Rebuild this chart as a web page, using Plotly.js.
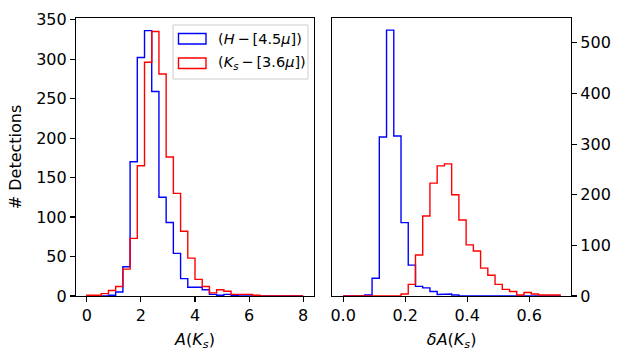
<!DOCTYPE html>
<html>
<head>
<meta charset="utf-8">
<script src="https://cdn.plot.ly/plotly-3.0.1.min.js"></script>
<style>
  html, body { margin: 0; padding: 0; background: #fff; }
  #chart { width: 620px; height: 357px; }
</style>
</head>
<body>
<div id="chart"></div>
<script>
// histogram bins: 30 bins each panel
const ampBinStart = 0, ampBinWidth = 8 / 30;
const errBinStart = 0, errBinWidth = 0.7 / 30;

// A(Ks) counts, (H - [4.5]) and (Ks - [3.6])
const ampH45 = [0, 0, 0, 1, 5, 37, 170, 302, 336, 259, 125, 93, 54, 22, 11,
                11, 8, 2, 1, 2, 1, 0, 0, 0, 0, 0, 0, 0, 0, 0];
const ampKs36 = [1, 1, 3, 7, 12, 34, 73, 165, 296, 335, 281, 176, 130, 82, 48,
                 21, 12, 4, 8, 6, 2, 2, 2, 1, 0, 0, 0, 0, 0, 0];

// dA(Ks) counts
const errH45 = [0, 0, 0, 2, 35, 314, 525, 316, 145, 61, 19, 16, 9, 3, 4,
                2, 0, 0, 0, 0, 0, 0, 0, 0, 0, 0, 0, 0, 0, 0];
const errKs36 = [0, 0, 0, 0, 0, 0, 0, 0, 4, 23, 81, 158, 223, 257, 261,
                 200, 150, 101, 89, 55, 41, 23, 13, 9, 2, 7, 4, 2, 2, 2];

const seriesNames = ['(<i>H</i>\u2009−\u2009[4.5<i>μ</i>])', '(<i>K</i><sub><i>s</i></sub>\u2009−\u2009[3.6<i>μ</i>])'];
const seriesColors = ['#0000ff', '#ff0000'];

// step outline like matplotlib histtype='step'
function stepTrace(start, width, counts, color, xa, ya) {
  const x = [start], y = [0];
  counts.forEach((c, i) => {
    x.push(start + i * width, start + (i + 1) * width);
    y.push(c, c);
  });
  x.push(start + counts.length * width);
  y.push(0);
  return {
    x: x, y: y, type: 'scatter', mode: 'lines',
    line: {color: color, width: 1.4, shape: 'linear'},
    xaxis: xa, yaxis: ya, showlegend: false, hoverinfo: 'skip'
  };
}

const traces = [
  stepTrace(ampBinStart, ampBinWidth, ampH45, seriesColors[0], 'x', 'y'),
  stepTrace(ampBinStart, ampBinWidth, ampKs36, seriesColors[1], 'x', 'y'),
  stepTrace(errBinStart, errBinWidth, errH45, seriesColors[0], 'x2', 'y2'),
  stepTrace(errBinStart, errBinWidth, errKs36, seriesColors[1], 'x2', 'y2')
];

const M = {l: 76, r: 49, t: 18, b: 61};
const W = 620, H = 357;
const pw = W - M.l - M.r, ph = H - M.t - M.b;
const px = v => (v - M.l) / pw;
const py = v => (H - M.b - v) / ph;

const font = {family: 'DejaVu Sans, sans-serif', size: 16, color: '#000'};
const legFont = {family: 'DejaVu Sans, sans-serif', size: 14.5, color: '#000'};
const axisBase = {
  showline: true, mirror: true, linecolor: '#000', linewidth: 1.1,
  ticks: 'outside', ticklen: 5, tickwidth: 1.1, tickcolor: '#000',
  showgrid: false, zeroline: false, tickfont: font
};

// legend drawn as in matplotlib (outlined patches)
const shapes = [
  {type: 'rect', xref: 'paper', yref: 'paper', x0: px(173), x1: px(308), y0: py(79), y1: py(25),
   line: {color: '#cccccc', width: 1}, fillcolor: 'rgba(255,255,255,0.8)'},
  {type: 'rect', xref: 'paper', yref: 'paper', x0: px(178.5), x1: px(206), y0: py(44), y1: py(33.5),
   line: {color: seriesColors[0], width: 1.4}, fillcolor: 'rgba(0,0,0,0)'},
  {type: 'rect', xref: 'paper', yref: 'paper', x0: px(178.5), x1: px(206), y0: py(68.5), y1: py(58),
   line: {color: seriesColors[1], width: 1.4}, fillcolor: 'rgba(0,0,0,0)'}
];
const annotations = seriesNames.map((t, i) => ({
  text: t, xref: 'paper', yref: 'paper', x: px(216), y: py(i ? 63.5 : 39),
  xanchor: 'left', yanchor: 'middle', showarrow: false, font: legFont
}));

const layout = {
  width: W, height: H, margin: M,
  paper_bgcolor: '#fff', plot_bgcolor: '#fff', font: font,
  showlegend: false,
  xaxis: Object.assign({}, axisBase, {
    domain: [0, px(314)], range: [-0.4, 8.4], dtick: 2, tick0: 0,
    title: {text: '<i>A</i>(<i>K</i><sub><i>s</i></sub>)', font: font, standoff: 9}
  }),
  yaxis: Object.assign({}, axisBase, {
    domain: [0, 1], range: [0, 352], dtick: 50, tick0: 0,
    title: {text: '# Detections', font: font, standoff: 10}
  }),
  xaxis2: Object.assign({}, axisBase, {
    domain: [px(332.3), 1], range: [-0.035, 0.735], dtick: 0.2, tick0: 0,
    tickformat: '.1f', anchor: 'y2',
    title: {text: '<i>δA</i>(<i>K</i><sub><i>s</i></sub>)', font: font, standoff: 9}
  }),
  yaxis2: Object.assign({}, axisBase, {
    domain: [0, 1], range: [0, 549], dtick: 100, tick0: 0,
    side: 'right', anchor: 'x2'
  }),
  shapes: shapes,
  annotations: annotations
};

Plotly.newPlot('chart', traces, layout, {staticPlot: true});
</script>
</body>
</html>
